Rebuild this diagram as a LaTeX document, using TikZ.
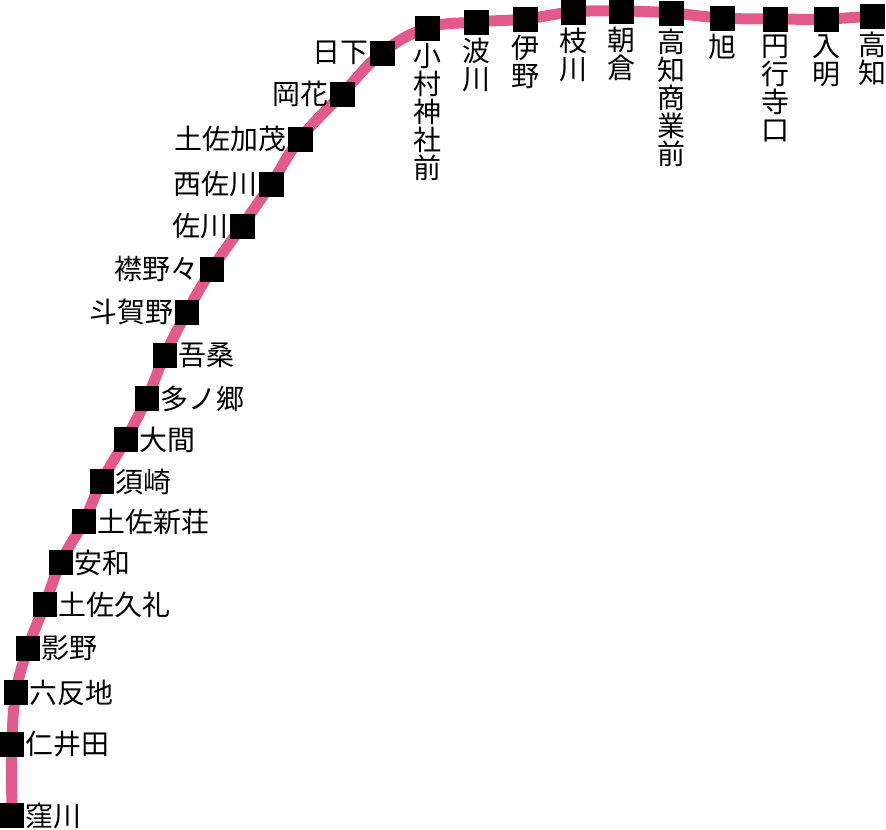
\documentclass[tikz,border=0pt]{standalone}
\usepackage{fontspec}
\setmainfont{Noto Sans CJK JP}
\usetikzlibrary{backgrounds}
\definecolor{linepink}{RGB}{226,90,140}
\tikzset{
	stn/.style={fill=black, minimum size=0.5cm, inner sep=0pt},
	lbl/.style={font=\fontsize{15.9pt}{15.9pt}\selectfont, inner sep=0pt, align=center},
}
\begin{document}
\begin{tikzpicture}[x=0.02cm, y=-0.02cm, line join=round, line cap=round]
	\useasboundingbox (0,0) rectangle (886,829);
	\foreach \n/\x/\y in {a/12/815,b/12/744,c/16/692,d/28/648,e/45/604,f/61/562,g/84/521,h/102/481,i/126/439,j/147/398,k/165/355,l/187/312,m/212/269,n/242/226,o/271/184,p/300/139,q/342/94,r/382/53,s/427/28,t/476/22,u/525/19,v/573/12,w/621/11,x/671/13,y/722/18,z/775/19,aa/826/19,ab/872/16}
	\node[stn] (\n) at (\x,\y) {};
	\begin{pgfonlayer}{background}
		\draw[linepink, line width=0.22cm] plot[smooth, tension=0.7] coordinates {(a) (b) (c) (d) (e) (f) (g) (h) (i) (j) (k) (l) (m) (n) (o) (p) (q) (r) (s) (t) (u) (v) (w) (x) (y) (z) (aa) (ab)};
	\end{pgfonlayer}
	% right of the square
	\foreach \n/\t in {a/窪川,b/仁井田,c/六反地,d/影野,e/土佐久礼,f/安和,g/土佐新荘,h/須崎,i/大間,j/多ノ郷,k/吾桑}
	\node[lbl, anchor=west, xshift=0.26cm, yshift=-0.01cm] (\n t) at (\n) {\t};
	% left of the square
	\foreach \n/\t in {l/斗賀野,m/襟野々,n/佐川,o/西佐川,p/土佐加茂,q/岡花,r/日下}
	\node[lbl, anchor=east, xshift=-0.26cm] (\n t) at (\n) {\t};
	% under the square
	\foreach \n/\t in {s/小\\村\\神\\社\\前,t/波\\川,u/伊\\野,v/枝\\川,w/朝\\倉,x/高\\知\\商\\業\\前,y/旭,z/円\\行\\寺\\口,aa/入\\明,ab/高\\知}
	\node[lbl, anchor=north, yshift=-0.31cm] (\n t) at (\n) {\t};
\end{tikzpicture}
\end{document}
